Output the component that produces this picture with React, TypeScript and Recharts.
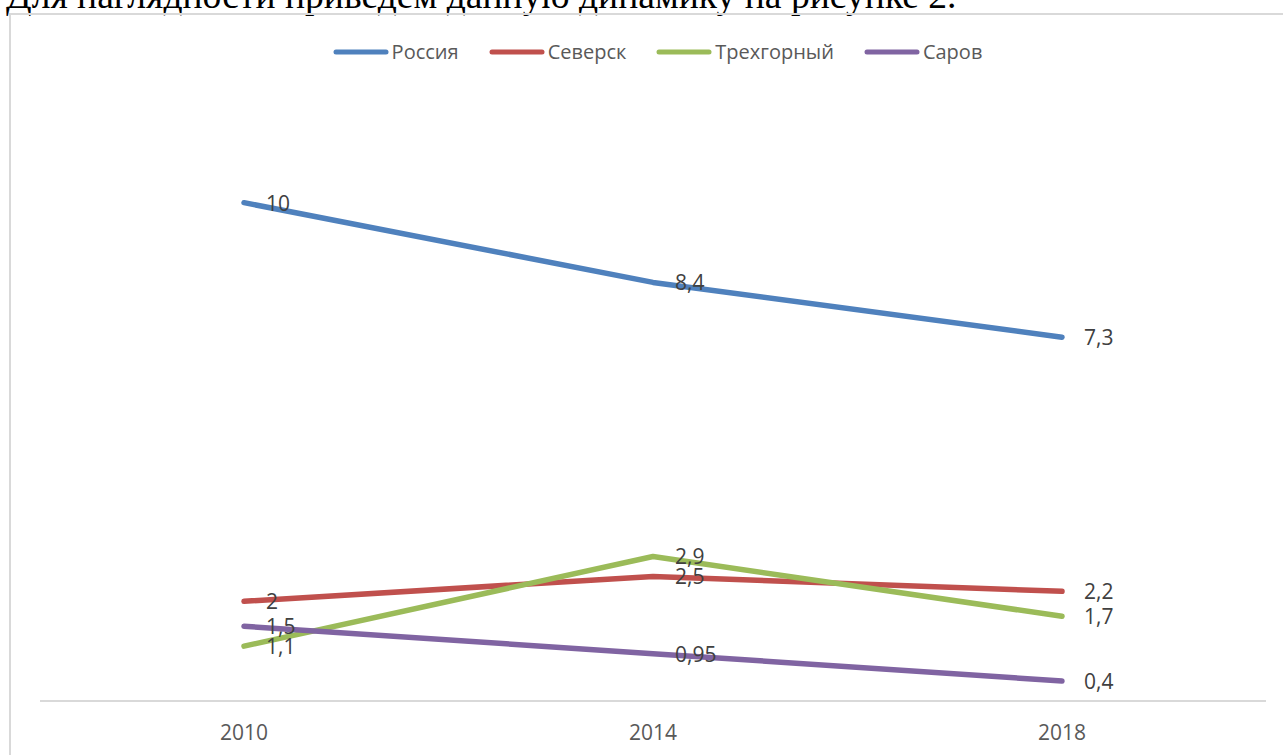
import React from 'react';
import { LineChart, Line, XAxis, YAxis, LabelList } from 'recharts';

// Years on the category axis
const years = ['2010', '2014', '2018'];

// Series values per year
const russia = [10, 8.4, 7.3];
const seversk = [2, 2.5, 2.2];
const trekhgorny = [1.1, 2.9, 1.7];
const sarov = [1.5, 0.95, 0.4];

const seriesNames = ['Россия', 'Северск', 'Трехгорный', 'Саров'];
const seriesValues = [russia, seversk, trekhgorny, sarov];
const seriesColors = ['#4F81BD', '#C0504D', '#9BBB59', '#8064A2'];

const yMax = 12;

const data = years.map((year, i) => {
  const row: Record<string, string | number> = { year };
  seriesValues.forEach((vals, s) => {
    row['s' + s] = vals[i];
  });
  return row;
});

const FONT = '"Open Sans", "Noto Sans", sans-serif';

const fmt = (v: number) => String(v).replace('.', ',');

const DataLabel = (props: any) => {
  const { x, y, value } = props;
  return (
    <text
      x={x + 22}
      y={y}
      dominantBaseline="central"
      fontFamily={FONT}
      fontSize={21}
      fill="#404040"
    >
      {fmt(value)}
    </text>
  );
};

const YearTick = (props: any) => {
  const { x, payload } = props;
  return (
    <text
      x={x}
      y={732}
      textAnchor="middle"
      dominantBaseline="central"
      fontFamily={FONT}
      fontSize={21}
      fill="#595959"
    >
      {payload.value}
    </text>
  );
};

export default function App() {
  return (
    <div
      style={{
        position: 'absolute',
        left: 0,
        top: 0,
        width: 1283,
        height: 755,
        overflow: 'hidden',
        background: '#ffffff',
      }}
    >
      {/* Sentence from the surrounding document */}
      <svg width={1283} height={20} style={{ position: 'absolute', left: 0, top: 0 }}>
        <text
          x={6}
          y={8}
          fontFamily='"Liberation Serif", "Times New Roman", serif'
          fontSize={37.6}
          fill="#000000"
        >
          Для наглядности приведем данную динамику на рисунке 2.
        </text>
      </svg>

      {/* Chart frame */}
      <div
        style={{
          position: 'absolute',
          left: 9,
          top: 13,
          width: 1300,
          height: 800,
          border: '2px solid #d9d9d9',
          boxSizing: 'border-box',
        }}
      />

      {/* Legend */}
      <div
        style={{
          position: 'absolute',
          left: 30,
          top: 38,
          width: 1255,
          display: 'flex',
          justifyContent: 'center',
          alignItems: 'center',
          gap: 30,
          fontFamily: FONT,
          fontSize: 20,
          color: '#595959',
          lineHeight: '28px',
        }}
      >
        {seriesNames.map((name, i) => (
          <div key={name} style={{ display: 'flex', alignItems: 'center' }}>
            <svg width={56} height={8} style={{ marginRight: 3 }}>
              <line
                x1={3}
                y1={4}
                x2={53}
                y2={4}
                stroke={seriesColors[i]}
                strokeWidth={5}
                strokeLinecap="round"
              />
            </svg>
            <span>{name}</span>
          </div>
        ))}
      </div>

      <div style={{ position: 'absolute', left: 0, top: 0 }}>
        <LineChart
          width={1283}
          height={755}
          data={data}
          margin={{ top: 103, right: 17, bottom: 0, left: 40 }}
        >
          <XAxis
            dataKey="year"
            height={54}
            axisLine={{ stroke: '#d9d9d9', strokeWidth: 2 }}
            tickLine={false}
            tick={<YearTick />}
            padding={{ left: 204, right: 204 }}
            interval={0}
          />
          <YAxis hide domain={[0, yMax]} />
          {seriesNames.map((name, i) => (
            <Line
              key={name}
              type="linear"
              dataKey={'s' + i}
              name={name}
              stroke={seriesColors[i]}
              strokeWidth={5.5}
              strokeLinecap="round"
              strokeLinejoin="round"
              dot={false}
              activeDot={false}
              isAnimationActive={false}
            >
              <LabelList dataKey={'s' + i} content={<DataLabel />} />
            </Line>
          ))}
        </LineChart>
      </div>
    </div>
  );
}
